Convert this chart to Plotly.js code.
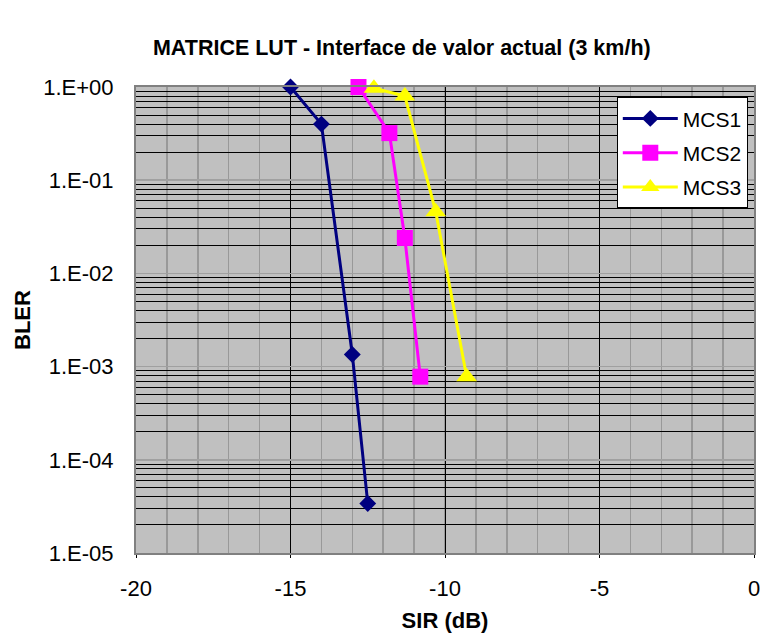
<!DOCTYPE html>
<html>
<head>
<meta charset="utf-8">
<script src="https://cdn.plot.ly/plotly-3.0.1.min.js"></script>
<style>html,body{margin:0;padding:0;background:#fff;}#chart{width:761px;height:635px;}</style>
</head>
<body>
<div id="chart"></div>
<script>
const seriesNames = ["MCS1", "MCS2", "MCS3"];
const mcs1_sir = [-15.0, -14.0, -13.0, -12.5];
const mcs1_bler = [1.0, 0.40, 1.35e-3, 3.4e-5];
const mcs2_sir = [-12.8, -11.8, -11.3, -10.8];
const mcs2_bler = [1.0, 0.32, 0.024, 7.8e-4];
const mcs3_sir = [-12.3, -11.3, -10.3, -9.3];
const mcs3_bler = [0.97, 0.80, 0.046, 7.8e-4];
const yTickVals = [1, 0.1, 0.01, 0.001, 0.0001, 0.00001];
const yTickText = ["1.E+00", "1.E-01", "1.E-02", "1.E-03", "1.E-04", "1.E-05"];
const xTickVals = [-20, -15, -10, -5, 0];

const font = "Liberation Sans, Arial, sans-serif";

const traces = [
  {x: mcs1_sir, y: mcs1_bler, name: seriesNames[0], mode: "lines+markers", legendgroup: "a", cliponaxis: false,
   line: {color: "#000080", width: 3}, marker: {symbol: "diamond", size: 13, color: "#000080"}},
  {x: mcs2_sir, y: mcs2_bler, name: seriesNames[1], mode: "lines+markers", legendgroup: "b", cliponaxis: false,
   line: {color: "#FF00FF", width: 3}, marker: {symbol: "square", size: 16, color: "#FF00FF"}},
  {x: mcs3_sir, y: mcs3_bler, name: seriesNames[2], mode: "lines+markers", legendgroup: "c", cliponaxis: false,
   line: {color: "#FFFF00", width: 3}, marker: {symbol: "triangle-up", size: 18, color: "#FFFF00"}}
];

const layout = {
  width: 761, height: 635,
  margin: {l: 136, r: 7, t: 87, b: 82},
  paper_bgcolor: "#ffffff",
  plot_bgcolor: "#c0c0c0",
  font: {family: font, size: 22, color: "#000"},
  title: {text: "<b>MATRICE LUT - Interface de valor actual (3 km/h)</b>",
          font: {family: font, size: 21.5, color: "#000"},
          xref: "container", x: 0.528, xanchor: "center",
          yref: "container", y: 1 - 47/635, yanchor: "middle"},
  showlegend: true,
  legend: {x: 0.778, y: 0.978, xanchor: "left", yanchor: "top",
           bgcolor: "#ffffff", bordercolor: "#000", borderwidth: 1,
           font: {family: font, size: 21}, tracegroupgap: 4, itemwidth: 55},
  xaxis: {
    range: [-20, 0], tickvals: xTickVals, ticktext: xTickVals.map(String),
    showgrid: true, gridcolor: "#000", gridwidth: 1,
    minor: {dtick: 1, showgrid: true, gridcolor: "#999", gridwidth: 1.5},
    showline: true, linecolor: "#808080", linewidth: 2, mirror: true,
    ticks: "outside", ticklen: 3, tickcolor: "#000",
    ticklabelstandoff: 12, zeroline: false,
    title: {text: "<b>SIR (dB)</b>", font: {family: font, size: 22}, standoff: 12},
    tickfont: {family: font, size: 22}
  },
  yaxis: {
    type: "log", range: [-5, 0], tickvals: yTickVals, ticktext: yTickText,
    showgrid: true, gridcolor: "#a0a0a0", gridwidth: 1.5,
    minor: {dtick: "D1", showgrid: true, gridcolor: "#000", gridwidth: 1, ticks: ""},
    showline: true, linecolor: "#808080", linewidth: 2, mirror: true,
    ticks: "", ticklabelstandoff: 16, zeroline: false,
    tickfont: {family: font, size: 22}
  },
  annotations: [
    {text: "<b>BLER</b>", textangle: -90, xref: "paper", yref: "paper",
     x: -0.1845, y: 0.5, xanchor: "center", yanchor: "middle", showarrow: false,
     font: {family: font, size: 22}}
  ]
};

Plotly.newPlot("chart", traces, layout, {displayModeBar: false, staticPlot: true});
</script>
</body>
</html>
